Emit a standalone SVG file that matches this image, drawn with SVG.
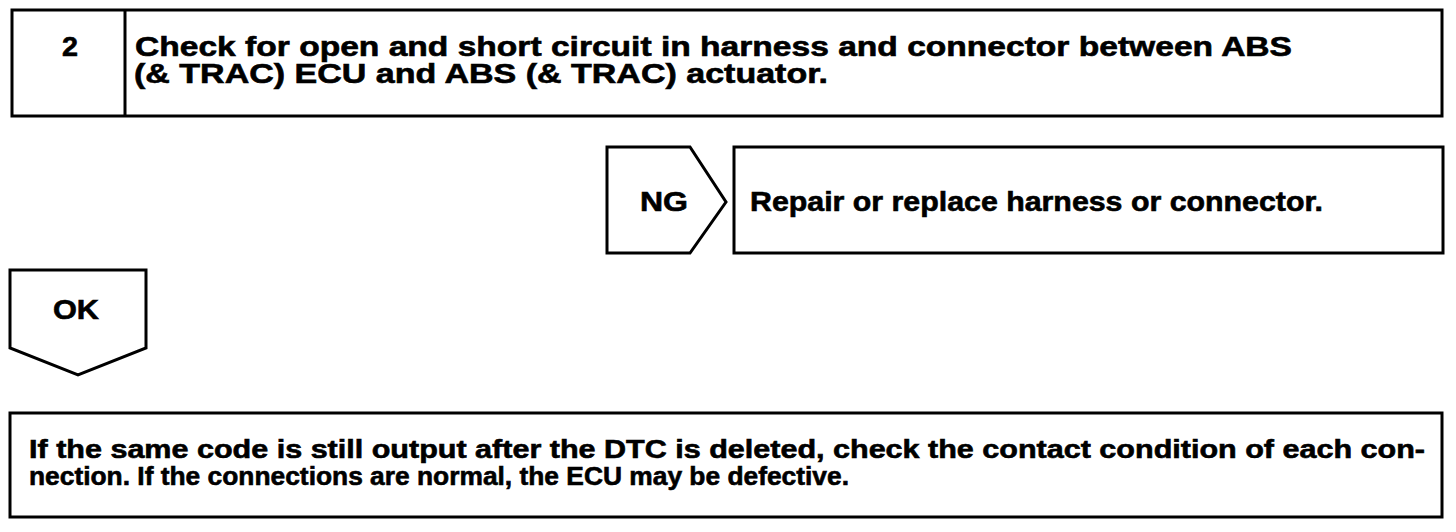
<svg xmlns="http://www.w3.org/2000/svg" width="1456" height="532" viewBox="0 0 1456 532">
<style>
.box{fill:#fff;stroke:#000;stroke-width:3;stroke-linejoin:miter}
.t{font-family:"Liberation Sans",Arial,Helvetica,sans-serif;font-weight:bold;font-size:27px;fill:#000;stroke:#000;stroke-width:0.6}
.m{font-size:27px}
.s{font-size:25px}
</style>
<rect width="1456" height="532" fill="#fff"/>
<g id="step2">
<rect class="box" x="12" y="10" width="1430" height="106"/>
<line class="box" x1="125" y1="10" x2="125" y2="116"/>
<text class="t m" x="62" y="56" textLength="16" lengthAdjust="spacingAndGlyphs">2</text>
<text class="t" x="135" y="56" textLength="1157" lengthAdjust="spacingAndGlyphs">Check for open and short circuit in harness and connector between ABS</text>
<text class="t" x="134" y="83" textLength="694" lengthAdjust="spacingAndGlyphs">(&amp; TRAC) ECU and ABS (&amp; TRAC) actuator.</text>
</g>
<g id="ng">
<path class="box" d="M607,147 H690 L726,202 L690,253 H607 Z"/>
<text class="t m" x="640" y="211" textLength="48" lengthAdjust="spacingAndGlyphs">NG</text>
</g>
<g id="repair">
<rect class="box" x="734" y="147" width="709" height="106"/>
<text class="t m" x="750" y="211" textLength="573" lengthAdjust="spacingAndGlyphs">Repair or replace harness or connector.</text>
</g>
<g id="ok">
<path class="box" d="M10,270 H146 V348 L78,375 L10,348 Z"/>
<text class="t m" x="53" y="319" textLength="46" lengthAdjust="spacingAndGlyphs">OK</text>
</g>
<g id="result">
<rect class="box" x="10" y="413" width="1432" height="104"/>
<text class="t s" x="29" y="458" textLength="1396" lengthAdjust="spacingAndGlyphs">If the same code is still output after the DTC is deleted, check the contact condition of each con-</text>
<text class="t s" x="29" y="485" textLength="820" lengthAdjust="spacingAndGlyphs">nection. If the connections are normal, the ECU may be defective.</text>
</g>
<g id="connectors"></g>
</svg>
